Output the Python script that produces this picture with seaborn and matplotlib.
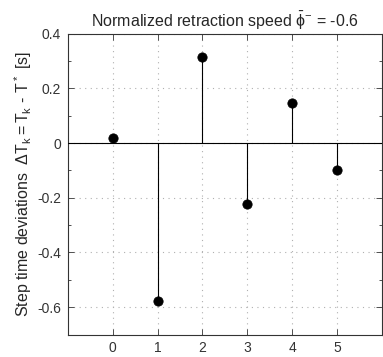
import matplotlib
matplotlib.use("Agg")
import matplotlib.pyplot as plt
import seaborn as sns
import numpy as np
from matplotlib.ticker import MultipleLocator

steps = [0, 1, 2, 3, 4, 5]
deviations = [0.02, -0.578, 0.315, -0.222, 0.148, -0.098]
xticks = [0, 1, 2, 3, 4, 5]
yticks = [-0.6, -0.4, -0.2, 0, 0.2, 0.4]
ytick_labels = ["-0.6", "-0.4", "-0.2", "0", "0.2", "0.4"]

sns.set_style("ticks")
plt.rcParams['font.family'] = ['Liberation Sans', 'DejaVu Sans']
plt.rcParams['mathtext.fontset'] = 'custom'
plt.rcParams['mathtext.rm'] = 'Liberation Sans'
plt.rcParams['mathtext.it'] = 'Liberation Sans'

fig = plt.figure(figsize=(3.83, 3.57), dpi=100)
ax = fig.add_axes([0.1775, 0.063, 0.8195, 0.8425])

ax.vlines(steps, 0, deviations, color='black', linewidth=0.8, zorder=3)
ax.axhline(0, color='black', linewidth=0.8, zorder=3)
sns.scatterplot(x=steps, y=deviations, ax=ax, color='black', s=45,
                edgecolor='black', zorder=4, legend=False)

ax.set_xlim(-1, 6)
ax.set_ylim(-0.7, 0.4)
ax.set_xticks(xticks)
ax.set_yticks(yticks)
ax.set_yticklabels(ytick_labels)
ax.yaxis.set_minor_locator(MultipleLocator(0.1))
ax.grid(True, which='major', linestyle=(0, (1, 4)), color='#b0b0b0', linewidth=0.8)
ax.tick_params(which='both', direction='in', top=True, right=True,
               labelsize=10, colors='#333333', length=4, width=0.6, pad=5)
ax.tick_params(which='minor', length=2.5)
for s in ax.spines.values():
    s.set_linewidth(0.8)
    s.set_color('#333333')

ax.set_title(r"Normalized retraction speed $\bar{\phi}^{-}$ = -0.6", fontsize=11.5, pad=5)
ax.set_ylabel(r"Step time deviations  $\Delta T_k = T_k$ - $T^*$ [s]", fontsize=11.5, labelpad=2)

fig.savefig("out.png", dpi=100)
